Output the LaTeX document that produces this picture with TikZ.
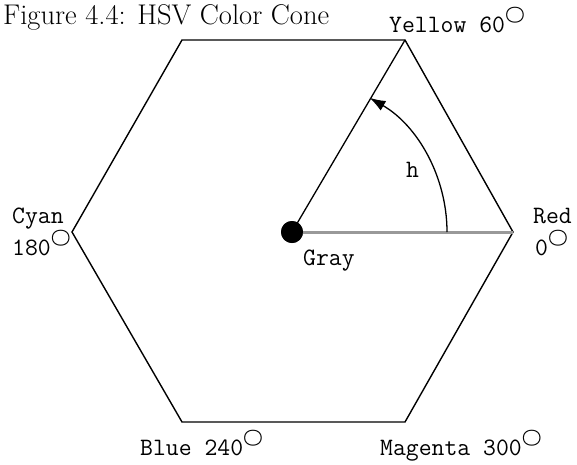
\documentclass[tikz,border=0pt]{standalone}
\usetikzlibrary{arrows.meta}
\newcommand\dgsym{\smash{\raisebox{13pt}{\fontsize{16}{16}\selectfont\boldmath$\bigcirc$}}}
\tikzset{
  lbl/.style={anchor=base west, inner sep=0pt, font=\ttfamily\fontsize{25}{32}\selectfont},
  edge/.style={line width=1.4pt, black, line join=miter},
}
\begin{document}
\begin{tikzpicture}[x=1pt,y=-1pt]
\useasboundingbox (0,0) rectangle (577,464);
% hexagon vertices
\coordinate (R) at (513,232);
\coordinate (Y) at (405,40);
\coordinate (TL) at (182,40);
\coordinate (Cy) at (72,232);
\coordinate (B) at (182,422);
\coordinate (M) at (405,422);
\draw[edge] (R) -- (Y) -- (TL) -- (Cy) -- (B) -- (M) -- cycle;
% center
\node[circle, fill=black, minimum size=22pt, inner sep=0pt] (c) at (292,232) {};
\draw[line width=3pt, black!40] (c.center) -- (R);
\draw[line width=1.3pt] (c.center) -- (Y);
\fill (c) circle (11);
% hue arc
\draw[line width=1.3pt, -{Latex[length=16pt,width=11pt]}] ([shift={(0:155)}]c.center) arc[start angle=0, end angle=-60, radius=155];
% labels
\node[anchor=base west, inner sep=0pt, font=\fontsize{28.5}{28.5}\selectfont] (title) at (3,24) {Figure 4.4: HSV Color Cone};
\node[lbl] (yl) at (389,32) {Yellow 60\dgsym};
\node[lbl, align=left] (cy) at (12,255) {Cyan\\180\dgsym};
\node[lbl, align=left] (rd) at (533,255) {Red\\\hspace*{2pt}0\dgsym};
\node[lbl] (gr) at (303,265) {Gray};
\node[lbl] (h) at (406,177) {h};
\node[lbl] (bl) at (140,455) {Blue 240\dgsym};
\node[lbl] (mg) at (380,455) {Magenta 300\dgsym};
\end{tikzpicture}
\end{document}
